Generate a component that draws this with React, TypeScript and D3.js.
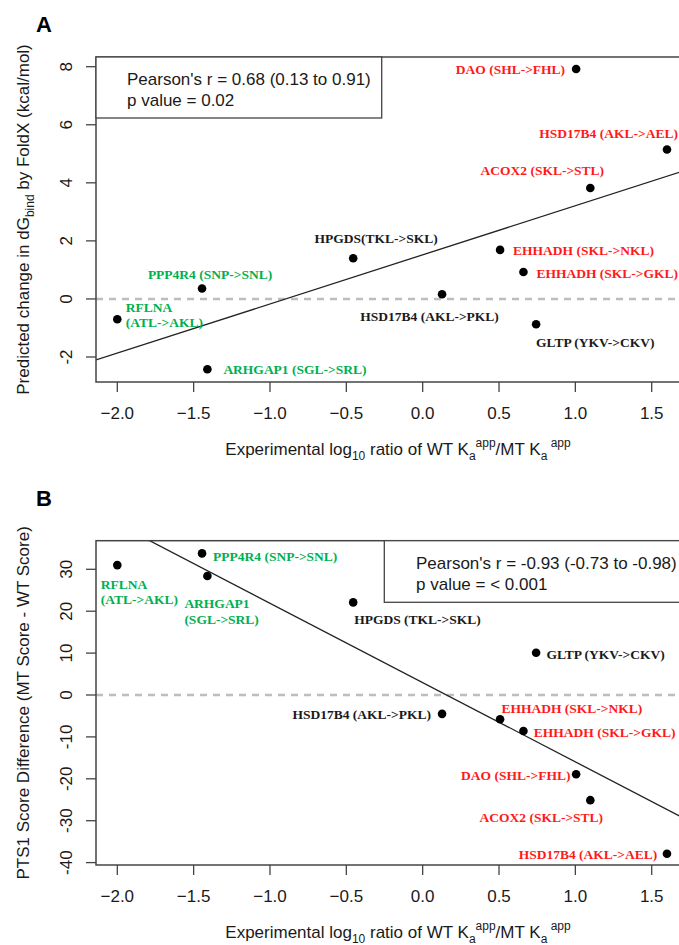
import React from 'react';
import * as d3 from 'd3';

// shared x values: log10 ratio of WT Ka app / MT Ka app
const genes = [
  'RFLNA', 'PPP4R4', 'ARHGAP1', 'HPGDS', 'HSD17B4-PKL', 'EHHADH-NKL',
  'EHHADH-GKL', 'GLTP', 'DAO', 'ACOX2', 'HSD17B4-AEL',
];
const logRatio = [-2.0, -1.445, -1.41, -0.455, 0.127, 0.507, 0.66, 0.743, 1.005, 1.098, 1.6];
const foldxDG = [-0.7, 0.36, -2.42, 1.4, 0.16, 1.69, 0.93, -0.87, 7.92, 3.82, 5.15];
const pts1Diff = [31.0, 33.8, 28.4, 22.1, -4.5, -5.8, -8.6, 10.1, -18.9, -25.1, -37.9];
const group = ['down', 'down', 'down', 'none', 'none', 'up', 'up', 'none', 'up', 'up', 'up'];

const labelsA = [
  'RFLNA\n(ATL->AKL)', 'PPP4R4 (SNP->SNL)', 'ARHGAP1 (SGL->SRL)', 'HPGDS(TKL->SKL)',
  'HSD17B4 (AKL->PKL)', 'EHHADH (SKL->NKL)', 'EHHADH (SKL->GKL)', 'GLTP (YKV->CKV)',
  'DAO (SHL->FHL)', 'ACOX2 (SKL->STL)', 'HSD17B4 (AKL->AEL)',
];
const labelsB = [
  'RFLNA\n(ATL->AKL)', 'PPP4R4 (SNP->SNL)', 'ARHGAP1\n(SGL->SRL)', 'HPGDS (TKL->SKL)',
  'HSD17B4 (AKL->PKL)', 'EHHADH (SKL->NKL)', 'EHHADH (SKL->GKL)', 'GLTP (YKV->CKV)',
  'DAO (SHL->FHL)', 'ACOX2 (SKL->STL)', 'HSD17B4 (AKL->AEL)',
];

const xTicks = [-2.0, -1.5, -1.0, -0.5, 0.0, 0.5, 1.0, 1.5];
const yTicksA = [-2, 0, 2, 4, 6, 8];
const yTicksB = [-40, -30, -20, -10, 0, 10, 20, 30];

const statsA = ["Pearson's r = 0.68 (0.13 to 0.91)", 'p value = 0.02'];
const statsB = ["Pearson's r = -0.93 (-0.73 to -0.98)", 'p value = < 0.001'];

// label placement (anchor, dx, dy in px from the point)
const placeA: [string, number, number][] = [
  ['start', 8.5, -12], ['middle', 8, -14.5], ['start', 16, 0], ['middle', 23, -20],
  ['middle', -12.5, 21.5], ['start', 13, 0.7], ['start', 13, 1.3], ['start', 0, 18.4],
  ['end', -11, 0.7], ['middle', -48, -17.6], ['end', 11, -15.7],
];
const placeB: [string, number, number][] = [
  ['start', -16.6, 19], ['start', 11, 2.7], ['start', -23, 27.3], ['start', 1, 17],
  ['end', -11, 0], ['start', 1.4, -11], ['start', 10.4, 1.3], ['start', 10.3, 1.3],
  ['end', -5.7, 0.7], ['middle', -49, 16.7], ['end', -9.7, 0],
];

const colors: Record<string, string> = { up: '#ff1a1a', down: '#00b050', none: '#1a1a1a' };
const SANS = '"Liberation Sans", Arial, sans-serif';
const SERIF = '"Liberation Serif", "Times New Roman", serif';

const x = d3.scaleLinear().domain([-2, 1.5]).range([117.3, 651.7]);

function regression(xs: number[], ys: number[]) {
  const mx = d3.mean(xs)!;
  const my = d3.mean(ys)!;
  let sxy = 0, sxx = 0;
  xs.forEach((v, i) => { sxy += (v - mx) * (ys[i] - my); sxx += (v - mx) ** 2; });
  const slope = sxy / sxx;
  return { slope, intercept: my - slope * mx };
}

type PanelProps = {
  id: string;
  letter: string;
  letterY: number;
  top: number;
  bottom: number;
  y: d3.ScaleLinear<number, number>;
  yTicks: number[];
  values: number[];
  labels: string[];
  place: [string, number, number][];
  stats: string[];
  statsBox: [number, number, number, number]; // x0, y0, x1, y1
  statsX: number;
  statsY: number;
  yLabel: React.ReactNode;
};

const Panel = (p: PanelProps) => {
  const left = 96, right = 700;
  const fit = regression(logRatio, p.values);
  const xs = [x.invert(left), x.invert(right)];
  const line = d3.line<number>().x(d => x(d)).y(d => p.y(fit.intercept + fit.slope * d));
  return (
    <g>
      <defs>
        <clipPath id={`clip-${p.id}`}>
          <rect x={left} y={p.top} width={right - left} height={p.bottom - p.top} />
        </clipPath>
      </defs>
      <text x={36} y={p.letterY} fontFamily={SANS} fontWeight="bold" fontSize={22}>{p.letter}</text>

      {/* zero reference */}
      <line x1={left} x2={right} y1={p.y(0)} y2={p.y(0)} stroke="#bdbdbd" strokeWidth={2.5} strokeDasharray="7,6" />

      {/* fitted line */}
      <path d={line(xs) || ''} stroke="#222" strokeWidth={1.3} fill="none" clipPath={`url(#clip-${p.id})`} />

      {/* frame */}
      <rect x={left} y={p.top} width={right - left} height={p.bottom - p.top} fill="none" stroke="#444" strokeWidth={1.5} />

      {/* stats box */}
      <rect x={p.statsBox[0]} y={p.statsBox[1]} width={p.statsBox[2] - p.statsBox[0]} height={p.statsBox[3] - p.statsBox[1]}
        fill="#fff" stroke="#444" strokeWidth={1.3} />
      {p.stats.map((s, i) => (
        <text key={i} x={p.statsX} y={p.statsY + i * 20.8} fontFamily={SANS} fontSize={17} fill="#1a1a1a">{s}</text>
      ))}

      {/* x axis */}
      {xTicks.map(t => (
        <g key={t}>
          <line x1={x(t)} x2={x(t)} y1={p.bottom} y2={p.bottom + 10} stroke="#444" strokeWidth={1.3} />
          <text x={x(t)} y={p.bottom + 37} textAnchor="middle" fontFamily={SANS} fontSize={17} fill="#1a1a1a">{d3.format('.1f')(t)}</text>
        </g>
      ))}
      <text x={398} y={p.bottom + 73} textAnchor="middle" fontFamily={SANS} fontSize={17} fill="#1a1a1a">
        Experimental log<tspan fontSize={12} dy={5}>10</tspan>
        <tspan dy={-5}> ratio of WT K</tspan><tspan fontSize={12} dy={5}>a</tspan>
        <tspan fontSize={12} dy={-13}>app</tspan><tspan dy={8}>/MT K</tspan>
        <tspan fontSize={12} dy={5}>a</tspan><tspan fontSize={12} dy={-13}> app</tspan>
      </text>

      {/* y axis */}
      {p.yTicks.map(t => (
        <g key={t}>
          <line x1={left - 10} x2={left} y1={p.y(t)} y2={p.y(t)} stroke="#444" strokeWidth={1.3} />
          <text transform={`translate(71.5,${p.y(t)}) rotate(-90)`} textAnchor="middle" fontFamily={SANS} fontSize={17} fill="#1a1a1a">{t}</text>
        </g>
      ))}
      <text transform={`translate(28.5,${(p.top + p.bottom) / 2}) rotate(-90)`} textAnchor="middle" fontFamily={SANS} fontSize={17} fill="#1a1a1a">
        {p.yLabel}
      </text>

      {/* points and labels */}
      {logRatio.map((v, i) => {
        const cx = x(v), cy = p.y(p.values[i]);
        const [anchor, dx, dy] = p.place[i];
        const lines = p.labels[i].split('\n');
        return (
          <g key={genes[i]}>
            <circle cx={cx} cy={cy} r={4.3} fill="#000" />
            <text x={cx + dx} y={cy + dy} textAnchor={anchor as any} fontFamily={SERIF} fontWeight="bold" fontSize={13.5} fill={colors[group[i]]}>
              {lines.map((l, k) => (
                <tspan key={k} x={cx + dx} dy={k === 0 ? '0.35em' : 15.5}>{l}</tspan>
              ))}
            </text>
          </g>
        );
      })}
    </g>
  );
};

export default function App() {
  const yA = d3.scaleLinear().domain([-2, 8]).range([357, 66.7]);
  const yB = d3.scaleLinear().domain([-40, 30]).range([862.6, 569.3]);
  return (
    <svg width={679} height={945} style={{ position: 'absolute', left: 0, top: 0, background: '#fff' }}>
      <rect width={679} height={945} fill="#fff" />
      <Panel id="a" letter="A" letterY={32.3} top={57} bottom={382} y={yA} yTicks={yTicksA} values={foldxDG}
        labels={labelsA} place={placeA} stats={statsA} statsBox={[96, 57, 381.7, 118]} statsX={127} statsY={85}
        yLabel={<>Predicted change in dG<tspan fontSize={12} dy={5}>bind</tspan><tspan dy={-5}> by FoldX (kcal/mol)</tspan></>} />
      <Panel id="b" letter="B" letterY={506} top={540.7} bottom={865} y={yB} yTicks={yTicksB} values={pts1Diff}
        labels={labelsB} place={placeB} stats={statsB} statsBox={[384.3, 540.7, 720, 602.3]} statsX={416} statsY={569}
        yLabel={<>PTS1 Score Difference (MT Score - WT Score)</>} />
    </svg>
  );
}
